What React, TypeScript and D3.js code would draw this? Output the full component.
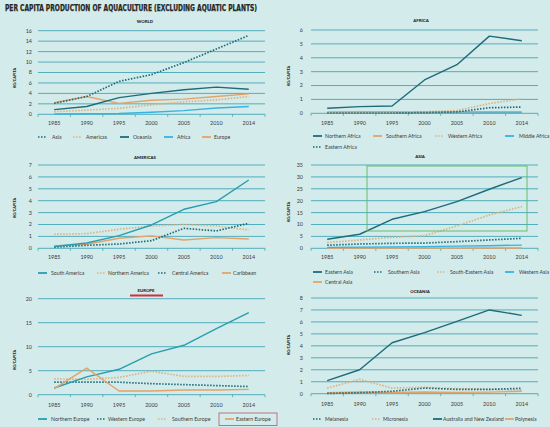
import React from "react";
import * as d3 from "d3";

const years = ["1985", "1990", "1995", "2000", "2005", "2010", "2014"];

// WORLD
const worldAsia = [2.1, 3.4, 6.3, 7.6, 9.9, 12.5, 15.1];
const worldAmericas = [0.5, 0.8, 1.15, 1.8, 2.4, 2.75, 3.4];
const worldOceania = [0.9, 1.5, 3.2, 4.0, 4.7, 5.2, 4.8];
const worldAfrica = [0.05, 0.1, 0.15, 0.4, 0.7, 1.2, 1.5];
const worldEurope = [2.2, 3.4, 2.1, 2.7, 2.9, 3.4, 3.9];

// AFRICA
const afNorthern = [0.36, 0.48, 0.53, 2.4, 3.5, 5.56, 5.23];
const afSouthern = [0.1, 0.12, 0.12, 0.1, 0.12, 0.12, 0.12];
const afWestern = [0.05, 0.05, 0.05, 0.1, 0.2, 0.7, 1.05];
const afMiddle = [0.01, 0.01, 0.01, 0.02, 0.03, 0.04, 0.05];
const afEastern = [0.02, 0.02, 0.02, 0.05, 0.1, 0.4, 0.45];

// AMERICAS
const amSouth = [0.15, 0.45, 1.06, 1.96, 3.28, 3.92, 5.74];
const amNorthern = [1.18, 1.23, 1.6, 1.88, 2.0, 1.88, 1.54];
const amCentral = [0.1, 0.25, 0.36, 0.64, 1.68, 1.46, 2.1];
const amCaribbean = [0.2, 0.34, 0.84, 1.04, 0.7, 0.9, 0.78];

// ASIA
const asEastern = [3.8, 5.9, 12.2, 15.4, 19.6, 24.8, 29.7];
const asSouthern = [1.3, 1.8, 2.1, 2.2, 2.8, 3.5, 4.2];
const asSouthEastern = [2.4, 3.5, 4.6, 5.3, 9.4, 14.0, 17.5];
const asWestern = [0.4, 0.5, 0.6, 0.7, 0.9, 1.1, 1.35];
const asCentral = [0.1, 0.1, 0.1, 0.1, 0.1, 0.1, 0.12];

// EUROPE
const euNorthern = [1.4, 3.7, 5.3, 8.5, 10.3, 13.75, 17.1];
const euWestern = [2.6, 2.6, 2.6, 2.3, 2.1, 1.9, 1.7];
const euSouthern = [3.3, 3.2, 3.6, 4.9, 3.8, 3.8, 4.0];
const euEastern = [1.25, 5.55, 0.76, 0.76, 0.97, 0.97, 1.1];

// OCEANIA
const ocMelanesia = [0.02, 0.08, 0.2, 0.47, 0.36, 0.36, 0.45];
const ocMicronesia = [0.47, 1.2, 0.47, 0.53, 0.42, 0.36, 0.3];
const ocAusNZ = [1.1, 2.0, 4.26, 5.1, 6.05, 7.0, 6.55];
const ocPolynesia = [0.08, 0.14, 0.1, 0.14, 0.11, 0.13, 0.2];

const DARK = "#1d6b7b";
const TEAL = "#2a9db2";
const BLUE = "#35b4e2";
const ORANGE = "#e2a36a";
const BEIGE = "#deb27e";
const GRID = "#45a6b8";
const BG = "#d3ebea";
const TXT = "#3a3a3a";
const FONT = "Lato, 'Open Sans', sans-serif";

type Style = "solid" | "dotted";
interface Series { name: string; values: number[]; color: string; style: Style; lx: number; tx: number; ly: number; }
interface Panel {
  title: string; tx: number; ty: number;
  x0: number; x1: number; yBot: number; yTop: number; yMax: number; yStep: number;
  yLabelX: number; yLabelY: number; xLabelY: number; tickX: number;
  series: Series[];
}

const L = { x0: 38, x1: 265, tickX: 32, yLabelX: 16 };
const R = { x0: 311, x1: 538, tickX: 303, yLabelX: 290 };

const panels: Panel[] = [
  {
    title: "WORLD", tx: 145, ty: 23, ...L, yBot: 114.3, yTop: 30.7, yMax: 16, yStep: 2, yLabelY: 78, xLabelY: 124.5,
    series: [
      { name: "Americas", values: worldAmericas, color: BEIGE, style: "dotted", lx: 73, tx: 86, ly: 137 },
      { name: "Africa", values: worldAfrica, color: BLUE, style: "solid", lx: 164, tx: 177, ly: 137 },
      { name: "Europe", values: worldEurope, color: ORANGE, style: "solid", lx: 202, tx: 214, ly: 137 },
      { name: "Oceania", values: worldOceania, color: DARK, style: "solid", lx: 120, tx: 133, ly: 137 },
      { name: "Asia", values: worldAsia, color: DARK, style: "dotted", lx: 38, tx: 52, ly: 137 },
    ],
  },
  {
    title: "AFRICA", tx: 421, ty: 22, ...R, yBot: 113.3, yTop: 30, yMax: 6, yStep: 1, yLabelY: 76, xLabelY: 124.5,
    series: [
      { name: "Middle Africa", values: afMiddle, color: BLUE, style: "solid", lx: 505, tx: 519, ly: 136 },
      { name: "Southern Africa", values: afSouthern, color: ORANGE, style: "solid", lx: 373, tx: 386, ly: 136 },
      { name: "Western Africa", values: afWestern, color: BEIGE, style: "dotted", lx: 435, tx: 448, ly: 136 },
      { name: "Eastern Africa", values: afEastern, color: DARK, style: "dotted", lx: 313, tx: 325, ly: 147 },
      { name: "Northern Africa", values: afNorthern, color: DARK, style: "solid", lx: 313, tx: 325, ly: 136 },
    ],
  },
  {
    title: "AMERICAS", tx: 145, ty: 159, ...L, yBot: 248.3, yTop: 165, yMax: 7, yStep: 1, yLabelY: 208, xLabelY: 259,
    series: [
      { name: "Caribbean", values: amCaribbean, color: ORANGE, style: "solid", lx: 222, tx: 233, ly: 273 },
      { name: "Northern America", values: amNorthern, color: BEIGE, style: "dotted", lx: 97, tx: 108, ly: 273 },
      { name: "Central America", values: amCentral, color: DARK, style: "dotted", lx: 158, tx: 172, ly: 273 },
      { name: "South America", values: amSouth, color: TEAL, style: "solid", lx: 38, tx: 51, ly: 273 },
    ],
  },
  {
    title: "ASIA", tx: 420, ty: 158, ...R, yBot: 248.3, yTop: 165, yMax: 35, yStep: 5, yLabelY: 212, xLabelY: 259,
    series: [
      { name: "Central Asia", values: asCentral, color: ORANGE, style: "solid", lx: 313, tx: 325, ly: 282 },
      { name: "Western Asia", values: asWestern, color: BLUE, style: "solid", lx: 505, tx: 519, ly: 272 },
      { name: "Southern Asia", values: asSouthern, color: DARK, style: "dotted", lx: 374, tx: 388, ly: 272 },
      { name: "South-Eastern Asia", values: asSouthEastern, color: BEIGE, style: "dotted", lx: 437, tx: 450, ly: 272 },
      { name: "Eastern Asia", values: asEastern, color: DARK, style: "solid", lx: 313, tx: 325, ly: 272 },
    ],
  },
  {
    title: "EUROPE", tx: 146, ty: 292, ...L, yBot: 394.7, yTop: 298.7, yMax: 20, yStep: 5, yLabelY: 360, xLabelY: 406.5,
    series: [
      { name: "Western Europe", values: euWestern, color: DARK, style: "dotted", lx: 97, tx: 108, ly: 419 },
      { name: "Southern Europe", values: euSouthern, color: BEIGE, style: "dotted", lx: 158, tx: 172, ly: 419 },
      { name: "Northern Europe", values: euNorthern, color: TEAL, style: "solid", lx: 38, tx: 51, ly: 419 },
      { name: "Eastern Europe", values: euEastern, color: ORANGE, style: "solid", lx: 225, tx: 236, ly: 419 },
    ],
  },
  {
    title: "OCEANIA", tx: 420, ty: 293, ...R, yBot: 393.7, yTop: 298, yMax: 8, yStep: 1, yLabelY: 345, xLabelY: 405.5,
    series: [
      { name: "Polynesia", values: ocPolynesia, color: ORANGE, style: "solid", lx: 505, tx: 515, ly: 419 },
      { name: "Micronesia", values: ocMicronesia, color: BEIGE, style: "dotted", lx: 372, tx: 383, ly: 419 },
      { name: "Melanesia", values: ocMelanesia, color: DARK, style: "dotted", lx: 313, tx: 325, ly: 419 },
      { name: "Australia and New Zealand", values: ocAusNZ, color: DARK, style: "solid", lx: 433, tx: 443, ly: 419 },
    ],
  },
];

function PanelView({ p }: { p: Panel }) {
  const x = d3.scaleBand<string>().domain(years).range([p.x0, p.x1]);
  const y = d3.scaleLinear().domain([0, p.yMax]).range([p.yBot, p.yTop]);
  const ticks = d3.range(0, p.yMax + 0.001, p.yStep);
  const line = d3
    .line<number>()
    .x((_, i) => (x(years[i]) as number) + x.bandwidth() / 2)
    .y((v) => y(v));
  const bounds = [...years.map((yr) => x(yr) as number), p.x1];
  return (
    <g>
      <text x={p.tx} y={p.ty} textAnchor="middle" fontSize={4.3} fontWeight={900} fill="#222" fontFamily={FONT}>
        {p.title}
      </text>
      {ticks.map((t) => (
        <g key={t}>
          <line x1={p.x0} x2={p.x1} y1={y(t)} y2={y(t)} stroke={GRID} strokeWidth={0.9} />
          <text x={p.tickX} y={y(t) + 1.9} textAnchor="end" fontSize={5.4} fill={TXT} fontFamily={FONT}>
            {t}
          </text>
        </g>
      ))}
      {bounds.map((b, i) => (
        <line key={i} x1={b} x2={b} y1={p.yBot} y2={p.yBot + 2.5} stroke={GRID} strokeWidth={0.8} />
      ))}
      {years.map((yr) => (
        <text key={yr} x={(x(yr) as number) + x.bandwidth() / 2} y={p.xLabelY} textAnchor="middle" fontSize={5.4} fill={TXT} fontFamily={FONT}>
          {yr}
        </text>
      ))}
      <text
        transform={`translate(${p.yLabelX},${p.yLabelY}) rotate(-90)`}
        textAnchor="middle"
        fontSize={3.8}
        fontWeight={900}
        fill="#222"
        fontFamily={FONT}
      >
        KG/CAPITA
      </text>
      {p.series.map((s) => (
        <path
          key={s.name}
          d={line(s.values) || ""}
          fill="none"
          stroke={s.color}
          strokeWidth={s.style === "dotted" ? 1.7 : 1.4}
          strokeDasharray={s.style === "dotted" ? "1.5,1.5" : undefined}
          strokeLinejoin="round"
        />
      ))}
      {p.series.map((s) => (
        <g key={s.name + "-lg"}>
          <line
            x1={s.lx}
            x2={s.lx + 9}
            y1={s.ly}
            y2={s.ly}
            stroke={s.color}
            strokeWidth={s.style === "dotted" ? 1.6 : 1.8}
            strokeDasharray={s.style === "dotted" ? "1.5,1.5" : undefined}
          />
          <text x={s.tx} y={s.ly + 1.8} fontSize={5.2} fill={TXT} fontFamily={FONT}>
            {s.name}
          </text>
        </g>
      ))}
    </g>
  );
}

export default function App() {
  return (
    <svg
      width={550}
      height={427}
      viewBox="0 0 550 427"
      style={{ position: "absolute", left: 0, top: 0, display: "block" }}
    >
      <rect x={0} y={0} width={550} height={427} fill={BG} />
      <text
        x={5}
        y={11}
        fontSize={9}
        fontWeight={900}
        fill="#262626"
        stroke="#262626"
        strokeWidth={0.25}
        fontFamily="'DejaVu Sans Condensed', 'DejaVu Sans', sans-serif"
        textLength={252}
        lengthAdjust="spacingAndGlyphs"
      >
        PER CAPITA PRODUCTION OF AQUACULTURE (EXCLUDING AQUATIC PLANTS)
      </text>
      {panels.map((p) => (
        <PanelView key={p.title} p={p} />
      ))}
      {/* annotations */}
      <rect x={367} y={166} width={160} height={65} fill="none" stroke="#5cb860" strokeWidth={0.9} />
      <line x1={130} x2={163} y1={295.5} y2={295.5} stroke="#d0303a" strokeWidth={1.8} />
      <rect x={219} y={413} width={58} height={12.5} fill="none" stroke="#b56a78" strokeWidth={0.9} />
    </svg>
  );
}
